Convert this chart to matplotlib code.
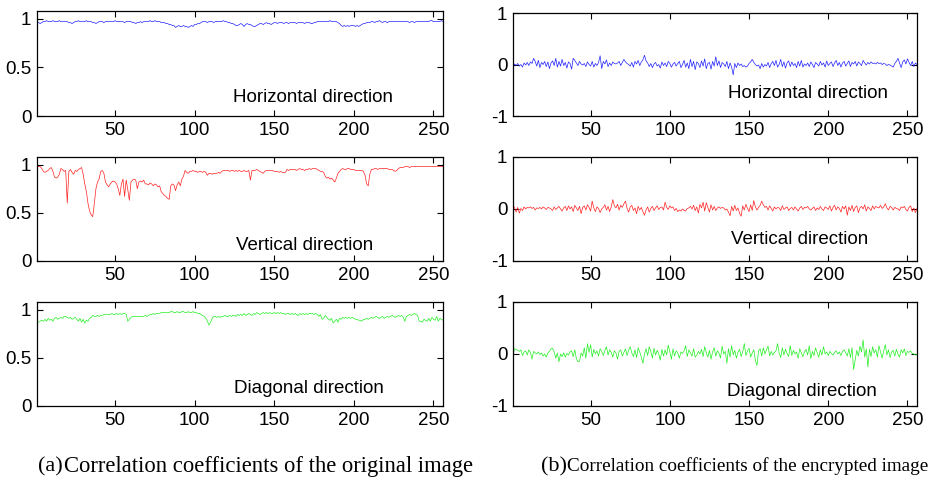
import numpy as np
import matplotlib
matplotlib.use("Agg")
import matplotlib.pyplot as plt

# correlation coefficients of adjacent pixels, per row index 1..256
h_orig = [
    0.97, 0.96, 0.95, 0.96, 0.97, 0.97, 0.98, 0.97, 0.97, 0.97, 0.98, 0.97, 0.97, 0.97, 0.98, 0.97,
    0.97, 0.97, 0.97, 0.97, 0.96, 0.96, 0.95, 0.96, 0.97, 0.97, 0.98, 0.97, 0.97, 0.97, 0.97, 0.98,
    0.97, 0.97, 0.97, 0.96, 0.96, 0.95, 0.96, 0.97, 0.97, 0.97, 0.96, 0.97, 0.97, 0.97, 0.97, 0.97,
    0.97, 0.98, 0.97, 0.97, 0.97, 0.97, 0.97, 0.96, 0.97, 0.97, 0.97, 0.97, 0.96, 0.96, 0.95, 0.96,
    0.96, 0.97, 0.96, 0.97, 0.97, 0.97, 0.97, 0.98, 0.97, 0.97, 0.98, 0.97, 0.97, 0.97, 0.96, 0.96,
    0.96, 0.95, 0.95, 0.94, 0.94, 0.93, 0.93, 0.91, 0.92, 0.93, 0.92, 0.92, 0.93, 0.92, 0.92, 0.91,
    0.92, 0.93, 0.92, 0.94, 0.94, 0.95, 0.95, 0.96, 0.97, 0.97, 0.97, 0.96, 0.97, 0.97, 0.97, 0.96,
    0.97, 0.97, 0.97, 0.97, 0.97, 0.98, 0.97, 0.97, 0.96, 0.96, 0.95, 0.95, 0.94, 0.93, 0.93, 0.94,
    0.95, 0.94, 0.92, 0.94, 0.95, 0.94, 0.94, 0.93, 0.92, 0.92, 0.93, 0.94, 0.95, 0.95, 0.94, 0.95,
    0.96, 0.95, 0.95, 0.94, 0.95, 0.96, 0.96, 0.95, 0.96, 0.96, 0.96, 0.95, 0.96, 0.96, 0.95, 0.96,
    0.96, 0.96, 0.96, 0.95, 0.96, 0.96, 0.96, 0.96, 0.95, 0.96, 0.96, 0.96, 0.95, 0.95, 0.96, 0.96,
    0.97, 0.97, 0.97, 0.97, 0.97, 0.97, 0.97, 0.97, 0.98, 0.97, 0.97, 0.97, 0.97, 0.96, 0.95, 0.93,
    0.92, 0.93, 0.92, 0.93, 0.92, 0.93, 0.93, 0.93, 0.92, 0.93, 0.92, 0.93, 0.94, 0.95, 0.95, 0.96,
    0.96, 0.96, 0.97, 0.97, 0.96, 0.97, 0.97, 0.98, 0.97, 0.96, 0.97, 0.97, 0.96, 0.97, 0.97, 0.97,
    0.97, 0.97, 0.97, 0.97, 0.97, 0.97, 0.97, 0.97, 0.97, 0.97, 0.96, 0.97, 0.97, 0.96, 0.97, 0.97,
    0.97, 0.97, 0.97, 0.97, 0.97, 0.97, 0.97, 0.98, 0.98, 0.97, 0.97, 0.97, 0.97, 0.97, 0.98, 0.97,
]

v_orig = [
    0.99, 0.98, 0.98, 0.96, 0.93, 0.92, 0.93, 0.94, 0.96, 0.97, 0.93, 0.87, 0.86, 0.87, 0.90, 0.96,
    0.95, 0.93, 0.94, 0.60, 0.93, 0.95, 0.92, 0.90, 0.94, 0.93, 0.95, 0.96, 0.97, 0.90, 0.80, 0.72,
    0.60, 0.52, 0.48, 0.46, 0.60, 0.75, 0.82, 0.85, 0.93, 0.94, 0.91, 0.82, 0.79, 0.77, 0.80, 0.82,
    0.83, 0.82, 0.80, 0.75, 0.68, 0.80, 0.85, 0.67, 0.84, 0.74, 0.63, 0.82, 0.84, 0.85, 0.84, 0.75,
    0.82, 0.83, 0.82, 0.84, 0.80, 0.80, 0.79, 0.81, 0.80, 0.78, 0.80, 0.79, 0.77, 0.78, 0.72, 0.70,
    0.68, 0.67, 0.65, 0.64, 0.78, 0.80, 0.79, 0.73, 0.79, 0.82, 0.78, 0.85, 0.88, 0.94, 0.92, 0.91,
    0.93, 0.93, 0.94, 0.93, 0.93, 0.92, 0.93, 0.93, 0.92, 0.93, 0.92, 0.89, 0.91, 0.91, 0.90, 0.91,
    0.91, 0.91, 0.92, 0.91, 0.93, 0.94, 0.94, 0.94, 0.94, 0.93, 0.94, 0.94, 0.93, 0.94, 0.93, 0.94,
    0.93, 0.93, 0.94, 0.93, 0.93, 0.94, 0.84, 0.94, 0.94, 0.94, 0.95, 0.94, 0.93, 0.92, 0.91, 0.93,
    0.94, 0.94, 0.94, 0.94, 0.94, 0.93, 0.93, 0.93, 0.92, 0.93, 0.92, 0.92, 0.92, 0.95, 0.94, 0.95,
    0.95, 0.95, 0.95, 0.94, 0.95, 0.96, 0.95, 0.95, 0.94, 0.95, 0.95, 0.96, 0.95, 0.96, 0.96, 0.96,
    0.95, 0.94, 0.93, 0.93, 0.92, 0.88, 0.86, 0.87, 0.85, 0.86, 0.84, 0.82, 0.86, 0.91, 0.93, 0.95,
    0.96, 0.95, 0.95, 0.96, 0.96, 0.95, 0.95, 0.95, 0.94, 0.94, 0.94, 0.94, 0.94, 0.93, 0.89, 0.80,
    0.78, 0.90, 0.95, 0.95, 0.96, 0.96, 0.95, 0.96, 0.96, 0.96, 0.96, 0.96, 0.96, 0.95, 0.95, 0.95,
    0.94, 0.93, 0.94, 0.96, 0.97, 0.97, 0.97, 0.98, 0.98, 0.98, 0.97, 0.98, 0.98, 0.98, 0.98, 0.98,
    0.98, 0.98, 0.98, 0.98, 0.98, 0.98, 0.98, 0.98, 0.98, 0.98, 0.98, 0.98, 0.98, 0.98, 0.98, 0.98,
]

d_orig = [
    0.87, 0.87, 0.88, 0.89, 0.88, 0.90, 0.88, 0.91, 0.89, 0.90, 0.88, 0.91, 0.92, 0.90, 0.91, 0.92,
    0.91, 0.93, 0.93, 0.92, 0.91, 0.92, 0.90, 0.91, 0.92, 0.90, 0.88, 0.91, 0.87, 0.90, 0.86, 0.89,
    0.88, 0.91, 0.92, 0.94, 0.93, 0.93, 0.94, 0.93, 0.94, 0.94, 0.95, 0.95, 0.95, 0.95, 0.95, 0.96,
    0.95, 0.95, 0.96, 0.95, 0.96, 0.95, 0.96, 0.96, 0.95, 0.88, 0.90, 0.92, 0.93, 0.93, 0.93, 0.93,
    0.93, 0.93, 0.93, 0.93, 0.94, 0.93, 0.94, 0.95, 0.95, 0.96, 0.95, 0.96, 0.96, 0.96, 0.97, 0.97,
    0.97, 0.97, 0.97, 0.97, 0.98, 0.98, 0.97, 0.97, 0.98, 0.97, 0.97, 0.98, 0.98, 0.97, 0.97, 0.98,
    0.97, 0.97, 0.98, 0.97, 0.97, 0.96, 0.96, 0.95, 0.94, 0.93, 0.91, 0.88, 0.84, 0.87, 0.91, 0.93,
    0.93, 0.92, 0.93, 0.92, 0.93, 0.93, 0.94, 0.93, 0.93, 0.94, 0.93, 0.94, 0.94, 0.93, 0.95, 0.94,
    0.95, 0.94, 0.96, 0.94, 0.95, 0.96, 0.95, 0.94, 0.96, 0.95, 0.97, 0.96, 0.95, 0.96, 0.97, 0.96,
    0.97, 0.96, 0.97, 0.96, 0.96, 0.97, 0.96, 0.97, 0.96, 0.97, 0.96, 0.96, 0.95, 0.96, 0.96, 0.95,
    0.96, 0.95, 0.96, 0.95, 0.94, 0.96, 0.95, 0.96, 0.95, 0.96, 0.95, 0.96, 0.96, 0.96, 0.95, 0.96,
    0.95, 0.93, 0.95, 0.90, 0.91, 0.94, 0.92, 0.90, 0.89, 0.91, 0.86, 0.88, 0.90, 0.87, 0.91, 0.90,
    0.92, 0.91, 0.92, 0.91, 0.92, 0.91, 0.92, 0.91, 0.90, 0.90, 0.89, 0.89, 0.88, 0.90, 0.90, 0.91,
    0.90, 0.91, 0.92, 0.91, 0.92, 0.93, 0.92, 0.91, 0.92, 0.93, 0.91, 0.92, 0.93, 0.92, 0.93, 0.94,
    0.93, 0.92, 0.93, 0.94, 0.93, 0.94, 0.92, 0.88, 0.93, 0.94, 0.95, 0.94, 0.95, 0.96, 0.95, 0.94,
    0.88, 0.88, 0.87, 0.90, 0.89, 0.88, 0.91, 0.88, 0.92, 0.90, 0.89, 0.93, 0.88, 0.91, 0.90, 0.89,
]

h_enc = [
    -0.04, 0.01, -0.02, 0.02, -0.03, 0.00, -0.05, 0.03, -0.01, 0.04, -0.02, 0.05, 0.02, 0.12, 0.06, -0.03,
    0.08, -0.06, 0.04, 0.00, 0.06, -0.04, 0.05, -0.08, 0.03, 0.07, -0.02, 0.12, -0.05, 0.06, -0.03, 0.10,
    -0.02, 0.04, -0.07, 0.05, 0.02, -0.09, 0.12, 0.08, 0.03, -0.02, 0.06, 0.01, -0.01, 0.02, -0.04, 0.05,
    0.00, -0.03, 0.06, -0.05, 0.02, -0.02, 0.04, 0.17, -0.08, 0.06, 0.01, 0.09, -0.04, 0.03, -0.02, 0.05,
    0.02, 0.01, 0.03, 0.06, -0.02, 0.04, 0.10, 0.05, 0.02, 0.00, -0.03, 0.04, -0.05, 0.06, 0.01, 0.08,
    -0.02, 0.05, 0.09, 0.18, 0.07, 0.03, -0.04, 0.02, -0.06, 0.01, 0.04, -0.03, 0.00, -0.07, 0.05, -0.02,
    0.03, -0.04, 0.06, 0.02, -0.05, 0.01, 0.04, -0.03, 0.02, 0.06, -0.06, 0.00, 0.08, -0.05, 0.03, -0.08,
    0.10, -0.04, 0.06, -0.10, 0.05, 0.02, -0.06, 0.07, -0.03, 0.11, -0.08, 0.02, 0.04, -0.09, 0.06, -0.03,
    0.15, -0.02, 0.07, -0.06, 0.04, 0.01, -0.04, 0.06, -0.08, 0.03, -0.05, -0.20, 0.02, -0.06, 0.03, -0.02,
    0.01, -0.04, -0.02, -0.05, -0.03, 0.02, 0.05, 0.10, 0.04, 0.00, -0.03, -0.01, -0.08, 0.02, -0.05, 0.00,
    -0.03, 0.04, -0.06, 0.02, 0.06, -0.02, 0.08, -0.05, 0.00, 0.10, -0.04, 0.05, -0.07, 0.03, 0.07, -0.04,
    0.05, -0.02, 0.02, -0.06, 0.06, -0.03, 0.08, -0.05, 0.01, -0.02, 0.03, -0.04, 0.05, 0.00, -0.06, 0.04,
    0.01, -0.03, 0.06, -0.01, 0.03, -0.05, 0.07, -0.02, 0.02, 0.05, -0.04, 0.03, 0.08, -0.02, 0.04, -0.05,
    0.03, 0.06, -0.03, 0.02, 0.07, -0.04, 0.04, 0.01, 0.06, -0.03, 0.05, 0.02, -0.02, 0.08, 0.03, -0.01,
    0.04, 0.01, 0.05, 0.02, 0.03, 0.01, 0.04, 0.02, 0.03, 0.00, 0.02, 0.01, -0.02, 0.00, -0.01, -0.03,
    -0.05, 0.02, 0.06, 0.12, 0.03, -0.06, 0.05, 0.09, 0.01, 0.11, 0.04, -0.02, 0.06, -0.04, 0.03, 0.00,
]

v_enc = [
    0.08, 0.02, -0.06, 0.03, -0.08, 0.01, -0.03, 0.04, 0.00, 0.03, 0.02, 0.04, 0.01, 0.03, -0.02, 0.02,
    0.01, 0.03, 0.00, 0.04, 0.02, -0.01, 0.03, 0.02, 0.00, -0.03, 0.04, -0.01, 0.02, 0.05, 0.00, -0.04,
    0.02, 0.05, -0.03, 0.06, 0.00, 0.04, -0.05, 0.07, 0.02, -0.03, 0.05, -0.09, 0.03, 0.06, -0.02, 0.08,
    0.03, -0.04, 0.15, 0.02, -0.05, 0.04, 0.01, -0.07, 0.00, 0.03, 0.08, -0.02, 0.05, -0.05, 0.04, 0.18,
    0.06, 0.02, 0.09, -0.02, 0.07, 0.03, 0.10, 0.15, 0.01, -0.06, 0.04, 0.07, -0.03, 0.02, -0.09, 0.05,
    -0.02, 0.03, -0.05, -0.12, -0.02, 0.04, -0.06, 0.01, 0.05, -0.03, 0.02, 0.06, -0.01, 0.03, 0.04, -0.02,
    0.13, 0.03, -0.01, 0.06, 0.02, 0.04, -0.03, 0.01, -0.05, -0.02, -0.04, 0.00, -0.03, -0.04, 0.01, 0.02,
    0.05, 0.00, 0.07, -0.03, 0.04, -0.08, 0.09, 0.02, 0.13, -0.04, 0.12, 0.03, -0.06, 0.08, -0.02, 0.05,
    -0.03, 0.02, 0.04, 0.01, 0.03, 0.02, -0.02, 0.00, -0.06, -0.13, 0.05, -0.04, 0.07, -0.03, 0.02, -0.08,
    -0.14, 0.06, -0.02, 0.09, 0.01, -0.05, 0.08, -0.03, 0.16, 0.04, -0.02, 0.03, 0.07, 0.15, 0.08, 0.03,
    0.05, -0.02, 0.06, 0.01, -0.04, 0.04, 0.00, 0.03, 0.02, -0.03, 0.06, -0.01, 0.02, 0.04, -0.03, 0.01,
    0.03, -0.02, 0.04, 0.00, -0.04, 0.02, 0.05, -0.01, 0.03, 0.02, 0.05, 0.00, -0.02, 0.01, 0.04, -0.03,
    0.02, -0.01, 0.05, 0.00, -0.03, 0.04, 0.02, -0.01, 0.06, -0.04, 0.03, 0.07, -0.02, 0.04, 0.01, -0.06,
    0.05, 0.00, 0.06, -0.12, 0.04, -0.03, 0.07, -0.05, 0.03, 0.06, -0.07, 0.02, 0.05, 0.00, 0.08, -0.04,
    0.04, 0.01, -0.03, 0.06, 0.00, 0.05, 0.03, 0.02, 0.07, 0.01, 0.04, 0.10, 0.02, -0.02, 0.05, 0.03,
    -0.02, 0.03, 0.01, 0.00, -0.03, 0.04, 0.02, 0.05, -0.01, -0.04, 0.03, 0.06, -0.05, 0.02, -0.07, 0.01,
]

d_enc = [
    -0.02, 0.10, 0.09, 0.07, 0.05, 0.08, -0.03, 0.04, 0.06, -0.02, 0.08, 0.03, -0.10, 0.05, 0.02, 0.00,
    0.04, -0.01, 0.02, -0.04, 0.00, -0.06, 0.02, 0.05, 0.10, 0.11, 0.04, -0.08, 0.02, -0.15, 0.00, -0.05,
    0.02, -0.06, 0.01, -0.02, 0.04, 0.06, -0.05, 0.08, -0.09, -0.15, -0.14, 0.02, -0.04, 0.12, -0.08, 0.20,
    0.03, 0.18, -0.06, 0.09, 0.00, 0.06, -0.04, 0.10, 0.05, -0.03, 0.07, 0.14, -0.02, 0.08, 0.03, -0.06,
    0.06, 0.02, -0.10, 0.05, 0.08, -0.04, 0.03, 0.10, -0.03, 0.07, 0.14, 0.02, -0.05, 0.08, -0.07, 0.12,
    0.04, -0.06, -0.18, 0.00, 0.10, -0.03, 0.14, 0.05, -0.08, 0.11, -0.02, 0.07, 0.00, -0.12, 0.09, -0.04,
    0.08, -0.02, 0.17, 0.04, -0.10, 0.10, -0.04, 0.06, 0.02, -0.08, 0.04, 0.01, 0.06, 0.16, -0.05, 0.08,
    0.02, -0.04, 0.10, -0.06, -0.02, 0.05, 0.00, 0.09, -0.05, 0.14, 0.03, -0.06, 0.07, -0.10, 0.04, 0.12,
    -0.04, 0.06, 0.02, -0.08, 0.15, 0.00, 0.05, -0.18, 0.10, -0.06, 0.16, -0.02, 0.07, -0.08, 0.03, 0.09,
    -0.05, 0.04, 0.20, -0.03, 0.06, 0.11, -0.06, 0.02, 0.08, -0.12, -0.22, 0.06, 0.10, -0.04, 0.12, 0.00,
    0.08, 0.15, -0.04, 0.05, -0.02, 0.03, 0.06, 0.20, 0.02, -0.07, 0.12, -0.02, 0.09, 0.01, -0.05, 0.16,
    -0.03, 0.07, 0.00, 0.04, -0.08, 0.10, 0.02, -0.05, 0.04, 0.09, -0.02, 0.16, -0.09, 0.05, -0.03, 0.12,
    0.02, -0.06, 0.08, -0.02, 0.14, 0.00, 0.04, -0.03, 0.05, 0.01, -0.02, 0.03, 0.06, 0.00, 0.04, -0.03,
    0.05, 0.08, 0.02, -0.04, 0.10, -0.07, 0.12, -0.30, -0.12, 0.07, -0.04, 0.15, 0.04, 0.27, -0.06, 0.10,
    -0.25, 0.09, -0.05, 0.14, 0.02, 0.08, -0.06, 0.16, 0.04, -0.08, 0.06, 0.18, -0.02, 0.08, -0.07, 0.04,
    0.07, -0.04, 0.09, 0.00, -0.06, 0.08, 0.02, 0.10, -0.03, 0.05, 0.03, 0.06, 0.01, 0.00, -0.02, -0.01,
]

labels = ["Horizontal direction", "Vertical direction", "Diagonal direction"]
colors = ["#2020ff", "#ff2020", "#20ee20"]
x_ticks = [50, 100, 150, 200, 250]

plt.rcParams["font.family"] = ["Liberation Sans", "DejaVu Sans"]

fig = plt.figure(figsize=(9.3, 4.8), dpi=100)

# axes boxes in figure fractions: [left, bottom, width, height]
left_boxes = [
    [0.0398, 0.7583, 0.4366, 0.2190],
    [0.0398, 0.4563, 0.4366, 0.2167],
    [0.0398, 0.1542, 0.4366, 0.2167],
]
right_boxes = [
    [0.5516, 0.7583, 0.4344, 0.2146],
    [0.5516, 0.4563, 0.4344, 0.2167],
    [0.5516, 0.1542, 0.4344, 0.2167],
]
left_text_pos = [(0.68, 0.18), (0.66, 0.15), (0.67, 0.17)]
right_text_pos = [(0.73, 0.22), (0.71, 0.21), (0.715, 0.14)]


def style_axes(ax, yticks, ylabels, ylim):
    ax.set_xlim(1, 256)
    ax.set_ylim(*ylim)
    ax.set_xticks(x_ticks)
    ax.set_yticks(yticks)
    ax.set_yticklabels(ylabels)
    ax.tick_params(direction="in", length=4, width=0.8, labelsize=13.5,
                   top=True, right=True, pad=4)
    for s in ax.spines.values():
        s.set_linewidth(0.9)


left_series = [h_orig, v_orig, d_orig]
right_series = [h_enc, v_enc, d_enc]

for i in range(3):
    ax = fig.add_axes(left_boxes[i])
    y = left_series[i]
    ax.plot(np.arange(1, len(y) + 1), y, color=colors[i], lw=0.5)
    style_axes(ax, [0, 0.5, 1], ["0", "0.5", "1"], (0, 1.08))
    ax.text(*left_text_pos[i], labels[i], transform=ax.transAxes,
            ha="center", va="center", fontsize=13.5)

    ax = fig.add_axes(right_boxes[i])
    y = right_series[i]
    ax.plot(np.arange(1, len(y) + 1), y, color=colors[i], lw=0.5)
    style_axes(ax, [-1, 0, 1], ["-1", "0", "1"], (-1, 1))
    ax.text(*right_text_pos[i], labels[i], transform=ax.transAxes,
            ha="center", va="center", fontsize=13.5)

# sub-figure captions
serif = ["Liberation Serif", "DejaVu Serif"]
fig.text(0.041, 0.028, "(a)", family=serif, fontsize=16, va="center")
fig.text(0.069, 0.028, "Correlation coefficients of the original image",
         family=serif, fontsize=16.3, va="center")
fig.text(0.582, 0.028, "(b)", family=serif, fontsize=16, va="center")
fig.text(0.610, 0.028, "Correlation coefficients of the encrypted image",
         family=serif, fontsize=13.8, va="center")

fig.savefig("out.png", dpi=100)
